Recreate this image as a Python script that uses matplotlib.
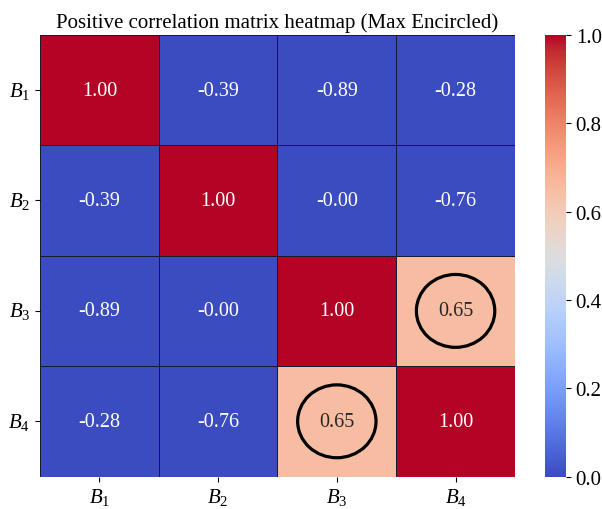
import matplotlib

matplotlib.use("Agg")
import matplotlib.pyplot as plt
import numpy as np
import seaborn as sns
from matplotlib.patches import Circle

LABELS = [r"$B_1$", r"$B_2$", r"$B_3$", r"$B_4$"]

ROW_B1 = [1.00, -0.39, -0.89, -0.28]
ROW_B2 = [-0.39, 1.00, -0.001, -0.76]
ROW_B3 = [-0.89, -0.001, 1.00, 0.65]
ROW_B4 = [-0.28, -0.76, 0.65, 1.00]

plt.rcParams["font.family"] = ["Liberation Serif", "DejaVu Serif"]
plt.rcParams["mathtext.fontset"] = "custom"
plt.rcParams["mathtext.rm"] = "Liberation Serif"
plt.rcParams["mathtext.it"] = "Liberation Serif:italic"
plt.rcParams["font.size"] = 15

corr = np.array([ROW_B1, ROW_B2, ROW_B3, ROW_B4])

fig = plt.figure(figsize=(6.02, 5.10), dpi=100)
ax = fig.add_axes([0.0664, 0.0637, 0.789, 0.866])
cax = fig.add_axes([0.9053, 0.0637, 0.0349, 0.866])

sns.heatmap(
    corr, ax=ax, cbar_ax=cax, cmap="coolwarm", vmin=0, vmax=1,
    annot=True, fmt=".2f", annot_kws={"size": 14.5},
    linewidths=0.7, linecolor="#1a1a2e",
    xticklabels=LABELS, yticklabels=LABELS,
)
ax.set_yticklabels(LABELS, rotation=0)
ax.tick_params(axis="both", labelsize=15)
cax.tick_params(labelsize=15)

# ring the largest off-diagonal correlation
off = corr.copy()
np.fill_diagonal(off, -np.inf)
rows, cols = np.where(off == off.max())
for r, c in zip(rows, cols):
    ax.add_patch(Circle((c + 0.5, r + 0.5), 0.33, fill=False,
                        edgecolor="black", linewidth=2.3))

ax.set_title("Positive correlation matrix heatmap (Max Encircled)", fontsize=15)

fig.savefig("out.png", dpi=100)
